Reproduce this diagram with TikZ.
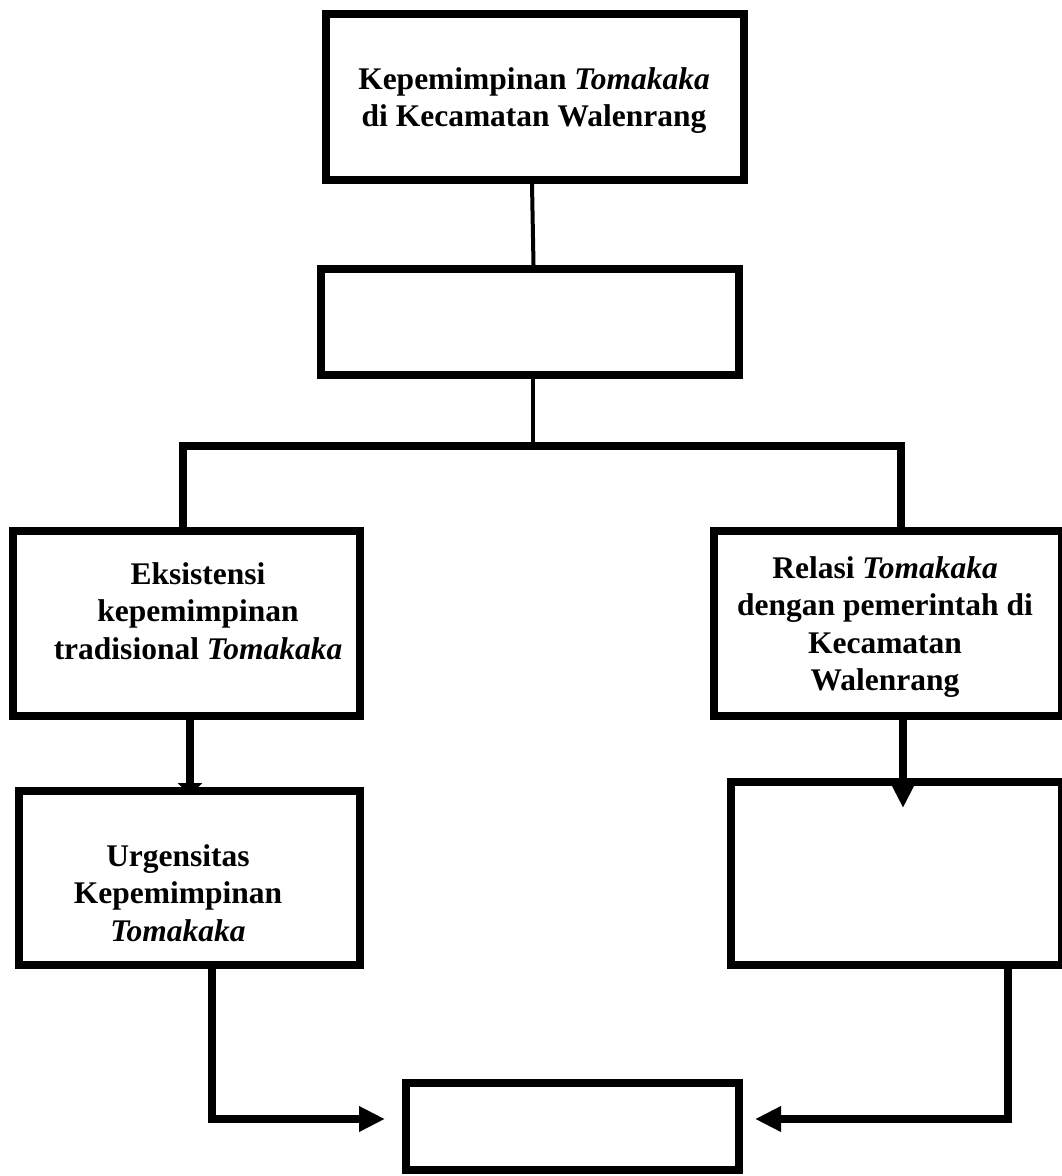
\documentclass[tikz,border=0pt]{standalone}
\usepackage{fontspec}
\setmainfont{Liberation Serif}
\usetikzlibrary{arrows.meta}
\begin{document}
\begin{tikzpicture}[x=1pt,y=-1pt,
  box/.style={draw, line width=8pt, rectangle, inner sep=0pt},
  lbl/.style={align=center, font=\fontsize{31.5}{37.5}\selectfont\bfseries, inner sep=0pt, anchor=north},
  conn/.style={line width=8pt, line join=miter},
  thinconn/.style={line width=4pt},
  tipA/.style={-{Triangle[width=24pt,length=26pt]}},
  tipB/.style={-{Triangle[width=24pt,length=12pt]}}
]
\useasboundingbox (0,0) rectangle (1062,1176);
% boxes
\node[box, minimum width=418pt, minimum height=166pt] (top) at (534.5,97) {};
\node[box, minimum width=418pt, minimum height=105.5pt] (second) at (530,321.75) {};
\node[box, minimum width=347pt, minimum height=185pt] (eks) at (186.5,623.5) {};
\node[box, minimum width=348pt, minimum height=185pt] (rel) at (888,623.5) {};
\node[box, minimum width=341pt, minimum height=174pt] (urg) at (189.5,878) {};
\node[box, minimum width=331pt, minimum height=183pt] (lowr) at (896.5,873.5) {};
\node[box, minimum width=333.5pt, minimum height=87pt] (bottom) at (572.25,1126.5) {};
% texts
\node[lbl] (ttop) at (534,67) {Kepemimpinan \textit{Tomakaka}\\di Kecamatan Walenrang};
\node[lbl] (teks) at (198,562) {Eksistensi\\kepemimpinan\\tradisional \textit{Tomakaka}};
\node[lbl] (trel) at (885,556) {Relasi \textit{Tomakaka}\\dengan pemerintah di\\Kecamatan\\Walenrang};
\node[lbl] (turg) at (178,844) {Urgensitas\\Kepemimpinan\\\textit{Tomakaka}};
% coordinates
\coordinate (hubL) at (183,446);
\coordinate (hubR) at (901,446);
\coordinate (urgA) at (190,795);
\coordinate (lrA) at (903,808);
\coordinate (bl) at (212,1119);
\coordinate (blT) at (385,1119);
\coordinate (br) at (1008,1119);
\coordinate (brT) at (755,1119);
% connectors
\draw[thinconn] ([xshift=-2.5pt]top.south) -- ([xshift=3.5pt]second.north);
\draw[thinconn] ([xshift=3pt]second.south) -- ([xshift=3pt]second.south |- hubL);
\draw[conn] (eks.north -| hubL) -- (hubL) -- (hubR) -- (rel.north -| hubR);
\draw[conn, tipB] (eks.south -| urgA) -- (urgA);
\draw[conn, tipA] (rel.south -| lrA) -- (lrA);
\draw[conn, tipA] (urg.south -| bl) -- (bl) -- (blT);
\draw[conn, tipA] (lowr.south -| br) -- (br) -- (brT);
\end{tikzpicture}
\end{document}
